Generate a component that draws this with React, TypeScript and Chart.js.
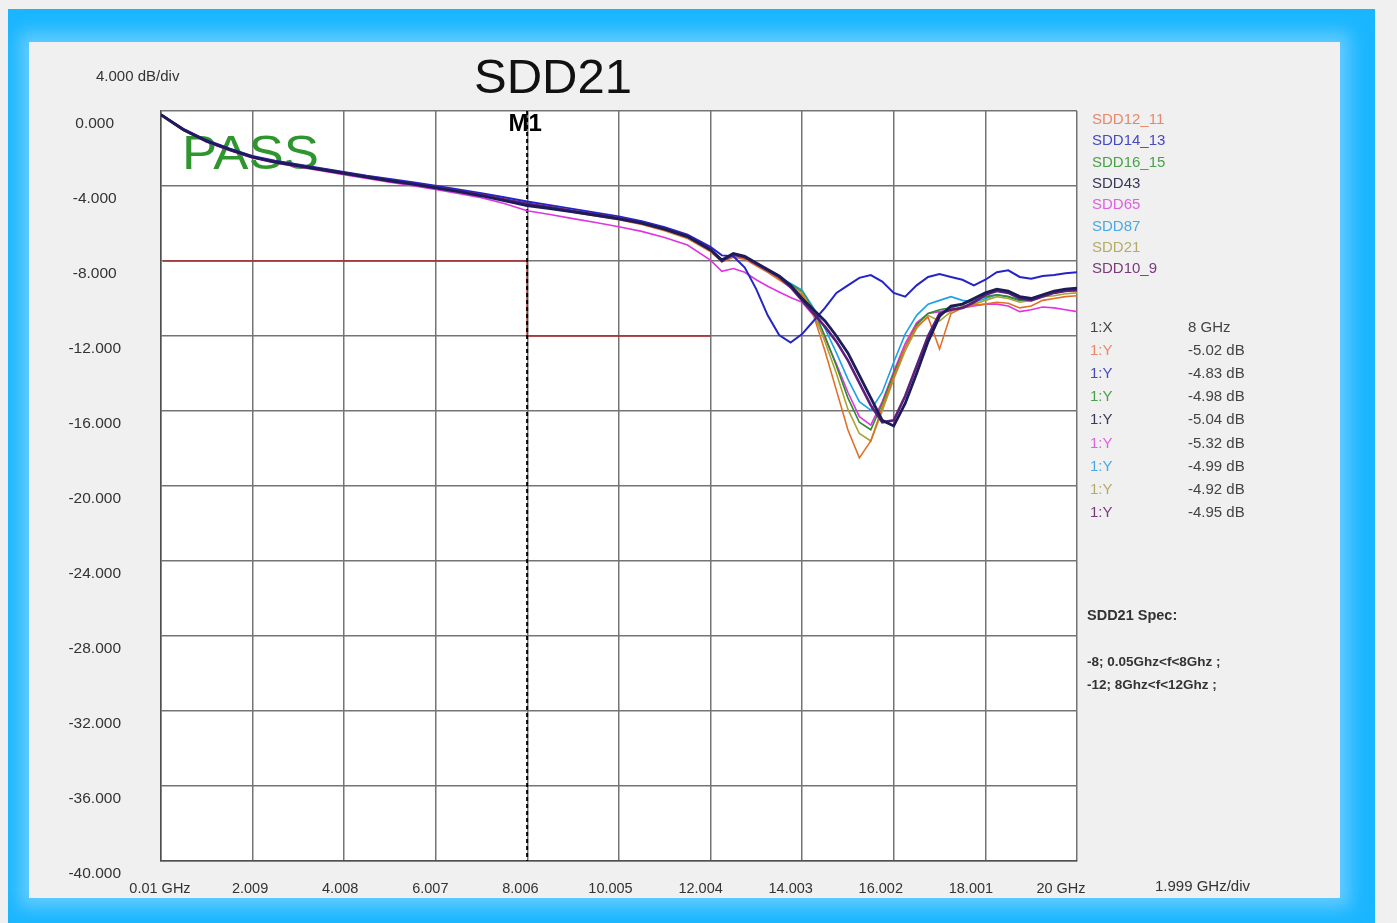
import React, { useEffect, useRef } from "react";
import { Chart, registerables } from "chart.js";

Chart.register(...registerables);

// ---------------- DATA ----------------
const freqGHz = [
  0.01, 0.5, 1, 1.5, 2, 2.5, 3, 3.5, 4, 4.5, 5, 5.5, 6, 6.5, 7, 7.5, 8, 8.5, 9, 9.5, 10, 10.5, 11, 11.5, 12,
  12.25, 12.5, 12.75, 13, 13.25, 13.5, 13.75, 14, 14.25, 14.5, 14.75, 15, 15.25, 15.5, 15.75, 16,
  16.25, 16.5, 16.75, 17, 17.25, 17.5, 17.75, 18, 18.25, 18.5, 18.75, 19, 19.25, 19.5, 19.75, 20,
];

const sdd12_11 = [
  -0.2, -1.0, -1.62, -2.07, -2.47, -2.72, -2.93, -3.13, -3.33, -3.53, -3.73, -3.9, -4.1, -4.3, -4.5, -4.76, -5.02, -5.2, -5.4, -5.6, -5.8, -6.05, -6.38, -6.8, -7.5,
  -8.05, -7.8, -7.9, -8.25, -8.6, -9.0, -9.4, -9.8, -10.9, -12.8, -14.9, -17.0, -18.5, -17.6, -15.8, -14.2,
  -12.6, -11.5, -11.0, -12.7, -10.8, -10.5, -10.35, -10.3, -10.2, -10.25, -10.5, -10.4, -10.1, -10.0, -9.9, -9.85,
];
const sdd14_13 = [
  -0.2, -0.95, -1.55, -2.0, -2.4, -2.65, -2.85, -3.05, -3.25, -3.45, -3.62, -3.8, -3.98, -4.18, -4.38, -4.6, -4.83, -5.02, -5.22, -5.42, -5.62, -5.88, -6.2, -6.6, -7.25,
  -7.7, -7.75, -8.35, -9.5, -10.9, -11.95, -12.35, -11.9, -11.2, -10.5, -9.7, -9.3, -8.9, -8.75, -9.1, -9.7,
  -9.9, -9.3, -8.85, -8.7, -8.85, -9.0, -9.3, -9.0, -8.6, -8.5, -8.85, -8.95, -8.8, -8.75, -8.65, -8.6,
];
const sdd16_15 = [
  -0.2, -1.0, -1.6, -2.05, -2.45, -2.7, -2.92, -3.12, -3.32, -3.52, -3.7, -3.88, -4.08, -4.28, -4.48, -4.73, -4.98, -5.15, -5.35, -5.55, -5.75, -6.0, -6.32, -6.72, -7.4,
  -8.0, -7.7, -7.8, -8.2, -8.5, -8.9, -9.25, -9.65, -10.6, -12.0, -13.6, -15.3, -16.6, -17.0, -15.6, -14.0,
  -12.6, -11.4, -10.8, -10.6, -10.5, -10.3, -10.1, -9.9, -9.8, -9.9, -10.1, -10.0, -9.8, -9.7, -9.6, -9.6,
];
const sdd43 = [
  -0.2, -1.0, -1.6, -2.05, -2.45, -2.72, -2.92, -3.12, -3.32, -3.52, -3.72, -3.9, -4.1, -4.3, -4.52, -4.78, -5.04, -5.2, -5.38, -5.56, -5.75, -5.98, -6.3, -6.7, -7.4,
  -7.95, -7.6, -7.75, -8.1, -8.45, -8.8, -9.3, -10.0, -10.6, -11.2, -12.0, -12.9, -14.1, -15.3, -16.5, -16.8,
  -15.6, -14.0, -12.3, -10.95, -10.4, -10.3, -10.0, -9.7, -9.5, -9.6, -9.9, -10.0, -9.8, -9.6, -9.5, -9.45,
];
const sdd65 = [
  -0.2, -1.02, -1.65, -2.1, -2.5, -2.77, -2.98, -3.19, -3.4, -3.6, -3.8, -3.99, -4.19, -4.4, -4.62, -4.93, -5.32, -5.52, -5.74, -5.95, -6.17, -6.42, -6.75, -7.15, -7.95,
  -8.55, -8.4, -8.6, -9.0, -9.35, -9.65, -9.95, -10.2, -10.9, -12.1, -13.5, -15.0, -16.3, -16.75, -15.5, -13.9,
  -12.4, -11.3, -10.8, -10.7, -10.6, -10.5, -10.4, -10.3, -10.3, -10.4, -10.7, -10.6, -10.45, -10.5, -10.6, -10.7,
];
const sdd87 = [
  -0.2, -1.0, -1.6, -2.05, -2.45, -2.7, -2.92, -3.12, -3.32, -3.52, -3.7, -3.88, -4.08, -4.28, -4.48, -4.74, -4.99, -5.16, -5.36, -5.56, -5.76, -6.0, -6.33, -6.72, -7.4,
  -7.95, -7.7, -7.8, -8.15, -8.5, -8.85, -9.2, -9.55, -10.5, -11.6, -12.9, -14.3, -15.5, -15.95, -15.0, -13.4,
  -11.9, -10.9, -10.3, -10.1, -9.9, -10.1, -10.2, -10.0, -9.8, -9.9, -10.1, -10.0, -9.8, -9.7, -9.6, -9.55,
];
const sdd21 = [
  -0.2, -1.0, -1.6, -2.05, -2.45, -2.7, -2.9, -3.1, -3.3, -3.5, -3.68, -3.86, -4.05, -4.25, -4.45, -4.68, -4.92, -5.1, -5.3, -5.5, -5.7, -5.95, -6.28, -6.7, -7.42,
  -8.0, -7.75, -7.85, -8.2, -8.55, -8.95, -9.3, -9.7, -10.7, -12.3, -14.0, -15.9, -17.2, -17.6, -16.0, -14.3,
  -12.8, -11.6, -10.9, -11.2, -10.7, -10.4, -10.3, -10.1, -9.9, -10.0, -10.2, -10.1, -9.9, -9.85, -9.75, -9.7,
];
const sdd10_9 = [
  -0.2, -1.0, -1.6, -2.05, -2.45, -2.7, -2.9, -3.1, -3.3, -3.5, -3.7, -3.88, -4.07, -4.27, -4.47, -4.72, -4.95, -5.13, -5.33, -5.52, -5.72, -5.96, -6.28, -6.68, -7.38,
  -8.0, -7.65, -7.8, -8.15, -8.5, -8.85, -9.4, -10.1, -10.8, -11.5, -12.3, -13.3, -14.5, -15.7, -16.6, -16.5,
  -15.2, -13.6, -12.0, -10.8, -10.6, -10.5, -10.2, -9.8, -9.6, -9.7, -10.0, -10.1, -9.9, -9.7, -9.6, -9.55,
];

const seriesNames = ["SDD12_11", "SDD14_13", "SDD16_15", "SDD43", "SDD65", "SDD87", "SDD21", "SDD10_9"];
const seriesValues = [sdd12_11, sdd14_13, sdd16_15, sdd43, sdd65, sdd87, sdd21, sdd10_9];
const markerReadings = ["-5.02 dB", "-4.83 dB", "-4.98 dB", "-5.04 dB", "-5.32 dB", "-4.99 dB", "-4.92 dB", "-4.95 dB"];

const specFreq = [0.05, 8, 8, 12];
const specLimit = [-8, -8, -12, -12];
const markerFreq = [8, 8];
const markerSpan = [0, -40];

const xTickValues = [0.01, 2.009, 4.008, 6.007, 8.006, 10.005, 12.004, 14.003, 16.002, 18.001, 20];
const xTickLabels = ["0.01 GHz", "2.009", "4.008", "6.007", "8.006", "10.005", "12.004", "14.003", "16.002", "18.001", "20 GHz"];
const yTickValues = [-40, -36, -32, -28, -24, -20, -16, -12, -8, -4, 0];
const yTickLabels = ["-40.000", "-36.000", "-32.000", "-28.000", "-24.000", "-20.000", "-16.000", "-12.000", "-8.000", "-4.000", "0.000"];

const specTexts = ["SDD21 Spec:", "-8; 0.05Ghz<f<8Ghz ;", "-12; 8Ghz<f<12Ghz ;"];

// ---------------- STYLES ----------------
const FONT = '"Liberation Sans", Arial, Helvetica, sans-serif';
const lineColors = ["#e07028", "#2424c8", "#2e8b2e", "#1c1c58", "#e034e0", "#1aa2e6", "#aaa232", "#5e1e7e"];
const textColors = ["#e8876a", "#4848c0", "#4aa04a", "#383858", "#e060e0", "#4aa8e6", "#b4ac66", "#7a3a7a"];
const lineWidths = [1.6, 2, 1.6, 2.8, 1.6, 1.6, 1.6, 2.6];
const drawOrder = [3, 2, 5, 0, 7, 6, 4, 1];

const bgPlugin = {
  id: "areaBg",
  beforeDraw(chart: any) {
    const { ctx, chartArea: a } = chart;
    ctx.save();
    ctx.fillStyle = "#ffffff";
    ctx.fillRect(a.left, a.top, a.right - a.left, a.bottom - a.top);
    ctx.restore();
  },
  beforeDatasetsDraw(chart: any) {
    const { ctx } = chart;
    ctx.save();
    ctx.translate(153, 127);
    ctx.scale(1.1, 1);
    ctx.font = `48px ${FONT}`;
    ctx.fillStyle = "#2f962f";
    ctx.textAlign = "left";
    ctx.textBaseline = "alphabetic";
    ctx.fillText("PASS", 0, 0);
    ctx.restore();
  },
};

const textPlugin = {
  id: "texts",
  afterDraw(chart: any) {
    const { ctx, chartArea: a } = chart;
    const xs = chart.scales.x;
    ctx.save();
    // title
    ctx.fillStyle = "#111";
    ctx.font = `49px ${FONT}`;
    ctx.textAlign = "center";
    ctx.textBaseline = "alphabetic";
    ctx.fillText("SDD21", 524, 51);
    // dB/div
    ctx.font = `15px ${FONT}`;
    ctx.fillStyle = "#333";
    ctx.textAlign = "left";
    ctx.textBaseline = "middle";
    ctx.fillText("4.000 dB/div", 67, 35);
    // GHz/div
    ctx.fillText("1.999 GHz/div", 1126, 845);
    // M1
    ctx.font = `bold 24px ${FONT}`;
    ctx.fillStyle = "#000";
    ctx.textAlign = "center";
    ctx.fillText("M1", xs.getPixelForValue(markerFreq[0]) - 2, a.top + 13);
    // legend
    ctx.textAlign = "left";
    ctx.font = `15px ${FONT}`;
    seriesNames.forEach((n, i) => {
      ctx.fillStyle = textColors[i];
      ctx.fillText(n, 1063, 78 + i * 21.3);
    });
    // marker table
    ctx.fillStyle = "#444";
    ctx.fillText("1:X", 1061, 286);
    ctx.fillText("8 GHz", 1159, 286);
    markerReadings.forEach((v, i) => {
      const y = 309 + i * 23.1;
      ctx.fillStyle = textColors[i];
      ctx.fillText("1:Y", 1061, y);
      ctx.fillStyle = "#444";
      ctx.fillText(v, 1159, y);
    });
    // spec
    ctx.fillStyle = "#333";
    ctx.font = `bold 14.5px ${FONT}`;
    ctx.fillText(specTexts[0], 1058, 574);
    ctx.font = `bold 13.5px ${FONT}`;
    ctx.fillText(specTexts[1], 1058, 620);
    ctx.fillText(specTexts[2], 1058, 643);
    ctx.restore();
  },
};

export default function App() {
  const ref = useRef<HTMLCanvasElement>(null);

  useEffect(() => {
    const canvas = ref.current!;
    const datasets: any[] = seriesNames.map((name, i) => ({
      label: name,
      data: freqGHz.map((f, j) => ({ x: f, y: seriesValues[i][j] })),
      borderColor: lineColors[i],
      borderWidth: lineWidths[i],
      pointRadius: 0,
      tension: 0,
      fill: false,
      order: drawOrder[i],
    }));
    datasets.push({
      label: "spec",
      data: specFreq.map((f, j) => ({ x: f, y: specLimit[j] })),
      borderColor: "#b02a2a",
      borderWidth: 1.5,
      pointRadius: 0,
      fill: false,
      order: 10,
    });
    datasets.push({
      label: "M1",
      data: markerFreq.map((f, j) => ({ x: f, y: markerSpan[j] })),
      borderColor: "#000",
      borderWidth: 2,
      borderDash: [4, 3],
      pointRadius: 0,
      fill: false,
      order: 9,
    });

    const chart = new Chart(canvas, {
      type: "line",
      data: { datasets },
      plugins: [bgPlugin, textPlugin],
      options: {
        responsive: false,
        animation: false,
        devicePixelRatio: 1,
        layout: { padding: { left: 0, top: 69, right: 263, bottom: 0 } },
        plugins: { legend: { display: false }, tooltip: { enabled: false }, title: { display: false } },
        scales: {
          x: {
            type: "linear",
            position: "bottom",
            min: 0.01,
            max: 20,
            weight: 0,
            afterBuildTicks: (s: any) => {
              s.ticks = xTickValues.map((v) => ({ value: v }));
            },
            afterFit: (s: any) => {
              s.height = 0;
            },
            ticks: { display: false },
            grid: { color: "#747474", lineWidth: 1.5, drawTicks: false },
            border: { display: true, color: "#505050", width: 1.5 },
          },
          xl: {
            type: "linear",
            position: "bottom",
            min: 0.0322,
            max: 20.355,
            weight: 1,
            afterBuildTicks: (s: any) => {
              s.ticks = xTickValues.map((v) => ({ value: v }));
            },
            afterFit: (s: any) => {
              s.height = 37;
            },
            ticks: {
              padding: 19,
              maxRotation: 0,
              autoSkip: false,
              color: "#333",
              font: { family: FONT, size: 14.5 },
              callback: (_v: any, i: number) => xTickLabels[i],
            },
            grid: { display: false, drawTicks: false },
            border: { display: false },
          },
          y: {
            type: "linear",
            position: "left",
            min: -40,
            max: 0,
            afterBuildTicks: (s: any) => {
              s.ticks = yTickValues.map((v) => ({ value: v }));
            },
            afterFit: (s: any) => {
              s.width = 132;
            },
            ticks: {
              crossAlign: "center",
              padding: 6,
              labelOffset: 12.5,
              autoSkip: false,
              color: "#333",
              font: { family: FONT, size: 15.5 },
              callback: (_v: any, i: number) => yTickLabels[i],
            },
            grid: {
              color: "#747474",
              lineWidth: 1.5,
              drawTicks: true,
              tickLength: 34,
              tickColor: "rgba(0,0,0,0)",
            },
            border: { display: true, color: "#505050", width: 1.5 },
          },
        },
      } as any,
    });
    return () => chart.destroy();
  }, []);

  return (
    <div style={{ position: "fixed", left: 0, top: 0, width: 1397, height: 923, background: "#f0f0f0", overflow: "hidden" }}>
      <div
        style={{
          position: "absolute",
          left: 8,
          top: 9,
          width: 1367,
          height: 914,
          background: "#1ab6ff",
          overflow: "hidden",
        }}
      >
        <div
          style={{
            position: "absolute",
            left: 21,
            top: 33,
            width: 1311,
            height: 856,
            background: "#f0f0f0",
            boxShadow: "0 0 16px 10px #62cbff",
          }}
        >
          <canvas ref={ref} width={1311} height={856} style={{ display: "block", width: 1311, height: 856 }} />
        </div>
      </div>
    </div>
  );
}
